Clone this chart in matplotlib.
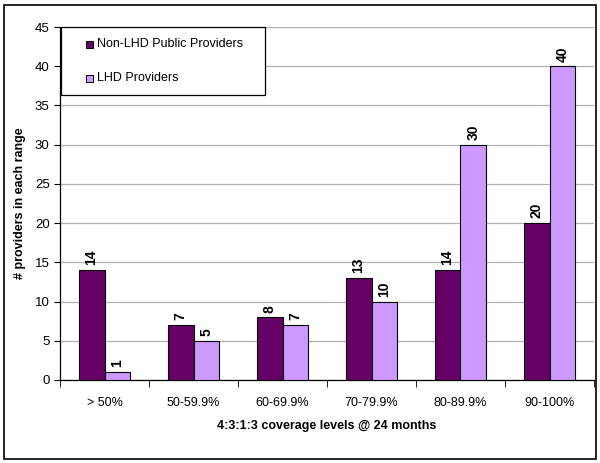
import matplotlib
matplotlib.use('Agg')
import matplotlib.pyplot as plt
import numpy as np
from matplotlib.patches import Rectangle

plt.rcParams['font.family'] = ['Liberation Sans', 'DejaVu Sans']

categories = ['> 50%', '50-59.9%', '60-69.9%', '70-79.9%', '80-89.9%', '90-100%']
series_names = ['Non-LHD Public Providers', 'LHD Providers']
non_lhd = [14, 7, 8, 13, 14, 20]
lhd = [1, 5, 7, 10, 30, 40]
colors = ['#660066', '#CC99FF']

W, H = 600, 463
fig = plt.figure(figsize=(W / 100, H / 100), dpi=100)
ax = fig.add_axes([60 / W, 1 - 380 / H, 534 / W, 353 / H])

x = np.arange(len(categories))
w = 0.29
b1 = ax.bar(x - w / 2, non_lhd, w, color=colors[0], edgecolor='black', linewidth=0.8, zorder=3)
b2 = ax.bar(x + w / 2, lhd, w, color=colors[1], edgecolor='black', linewidth=0.8, zorder=3)

for bars in (b1, b2):
    for r in bars:
        ax.text(r.get_x() + r.get_width() / 2, r.get_height() + 0.6, str(int(r.get_height())),
                rotation=90, ha='center', va='bottom', fontsize=10, fontweight='bold')

ax.set_xlim(-0.5, len(categories) - 0.5)
ax.set_ylim(0, 45)
ax.set_yticks(range(0, 46, 5))
ax.set_xticks(x)
ax.set_xticklabels(categories)
ax.set_xticks(np.arange(-0.5, len(categories), 1), minor=True)
ax.tick_params(axis='x', which='major', length=0, pad=12, labelsize=9)
ax.tick_params(axis='x', which='minor', length=5, direction='out')
ax.tick_params(axis='y', length=4, direction='out', labelsize=9.5)
ax.yaxis.grid(True, color='#b0b0b0', linewidth=0.9, zorder=0)
for s in ('top', 'right'):
    ax.spines[s].set_visible(False)
ax.spines['left'].set_linewidth(0.9)
ax.spines['bottom'].set_linewidth(0.9)

ax.set_ylabel('# providers in each range', fontsize=9, fontweight='bold', labelpad=6)
ax.set_xlabel('4:3:1:3 coverage levels @ 24 months', fontsize=9, fontweight='bold', labelpad=8)

# legend box drawn by hand (Excel-style padding)
def fx(px):
    return px / W

def fy(py):
    return 1 - py / H

fig.patches.append(Rectangle((fx(61), fy(95)), fx(265) - fx(61), fy(27) - fy(95),
                             transform=fig.transFigure, facecolor='white',
                             edgecolor='black', linewidth=0.9, zorder=5))
for name, col, py in zip(series_names, colors, [44, 78]):
    fig.patches.append(Rectangle((fx(86), fy(py + 3.5)), fx(93) - fx(86), fy(py - 3.5) - fy(py + 3.5),
                                 transform=fig.transFigure, facecolor=col,
                                 edgecolor='black', linewidth=0.7, zorder=6))
    fig.text(fx(97), fy(py), name, fontsize=9, va='center', ha='left', zorder=7)

fig.patches.append(Rectangle((fx(4), fy(459)), fx(596) - fx(4), fy(5) - fy(459),
                             transform=fig.transFigure, fill=False,
                             edgecolor='black', linewidth=1.2))

fig.savefig('out.png', dpi=100)
